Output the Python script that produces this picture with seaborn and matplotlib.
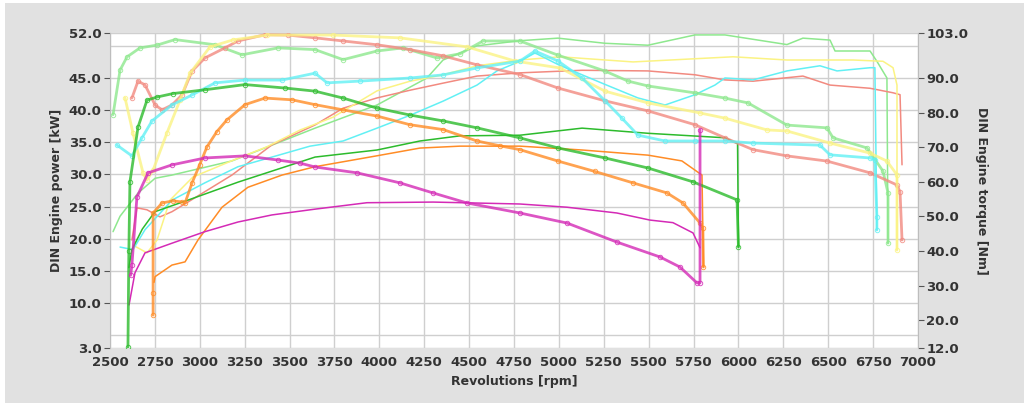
import matplotlib
matplotlib.use("Agg")
import matplotlib.pyplot as plt
from matplotlib.patches import Rectangle
import seaborn as sns

# ---------------- data (power: kW, left axis; torque: Nm, right axis) ----------------
X_TICKS = list(range(2500, 7001, 250))
KW_TICKS = [3, 10, 15, 20, 25, 30, 35, 40, 45, 52]
NM_TICKS = [12, 20, 30, 40, 50, 60, 70, 80, 90, 103]

LGREEN_TQ_RPM = [2517, 2556, 2595, 2667, 2762, 2862, 3085, 3235, 3436, 3642, 3798, 3987, 4132, 4321, 4450, 4577, 4783, 4995, 5257, 5385, 5496, 5758, 5925, 6053, 6270, 6493, 6527, 6716, 6805, 6833, 6833]
LGREEN_TQ_NM = [79.4, 92.3, 96.1, 98.7, 99.5, 101.1, 99.6, 96.7, 98.7, 98.2, 95.3, 97.8, 98.7, 95.8, 97.0, 100.7, 100.7, 96.6, 92.0, 89.1, 87.7, 85.7, 84.2, 82.8, 76.4, 75.6, 72.7, 69.8, 63.1, 56.8, 42.3]
LGREEN_PW_RPM = [2517, 2556, 2656, 2751, 2845, 3179, 3642, 3987, 4265, 4355, 4544, 4783, 4995, 5257, 5496, 5758, 5925, 6270, 6359, 6510, 6538, 6733, 6771, 6827, 6833]
LGREEN_PW_KW = [21.1, 23.5, 27.1, 29.4, 29.9, 32.1, 37.2, 40.8, 45.0, 47.8, 50.0, 50.8, 51.2, 50.4, 50.1, 51.7, 51.7, 50.2, 51.2, 50.9, 49.2, 49.2, 47.6, 45.0, 19.3]

SALMON_TQ_RPM = [2622, 2656, 2695, 2751, 2790, 2845, 2901, 2957, 3029, 3140, 3213, 3363, 3491, 3642, 3798, 3987, 4171, 4355, 4544, 4783, 4995, 5257, 5496, 5758, 5925, 6081, 6270, 6493, 6733, 6883, 6900, 6911]
SALMON_TQ_NM = [84.2, 89.1, 88.0, 82.2, 80.8, 82.2, 85.1, 92.0, 95.8, 98.7, 100.7, 102.5, 102.4, 101.6, 100.7, 99.6, 98.2, 96.4, 93.8, 91.0, 87.1, 83.4, 80.5, 76.5, 72.7, 69.3, 67.5, 66.0, 62.6, 59.1, 57.1, 43.2]
SALMON_PW_RPM = [2622, 2650, 2706, 2778, 2845, 2934, 3179, 3402, 3642, 3798, 3987, 4171, 4355, 4544, 4783, 5129, 5496, 5758, 5925, 6081, 6359, 6510, 6733, 6861, 6900, 6911]
SALMON_PW_KW = [19.8, 24.8, 24.5, 23.4, 24.2, 25.7, 29.9, 34.6, 37.7, 40.3, 41.9, 43.1, 44.2, 45.3, 45.8, 46.2, 46.1, 45.5, 44.7, 44.5, 45.3, 43.9, 43.4, 42.7, 42.4, 31.5]

YELLOW_TQ_RPM = [2584, 2628, 2684, 2706, 2740, 2817, 2890, 2946, 3057, 3185, 3374, 3742, 4115, 4488, 4755, 5006, 5257, 5496, 5786, 5925, 6159, 6270, 6510, 6733, 6827, 6883, 6883]
YELLOW_TQ_NM = [84.2, 74.1, 62.6, 60.5, 63.4, 74.1, 83.6, 91.4, 99.0, 101.0, 102.4, 102.4, 101.6, 99.0, 94.9, 92.9, 86.2, 82.8, 79.9, 78.4, 75.0, 74.7, 71.2, 68.3, 66.0, 62.0, 40.3]
YELLOW_PW_RPM = [2628, 2706, 2762, 2834, 2962, 3185, 3374, 3558, 3742, 3987, 4171, 4355, 4544, 4783, 5006, 5413, 5970, 6270, 6638, 6805, 6861, 6883, 6883]
YELLOW_PW_KW = [19.0, 17.8, 19.8, 26.0, 29.6, 32.2, 34.3, 36.9, 38.9, 43.0, 44.5, 45.5, 46.9, 47.8, 48.3, 47.5, 48.3, 47.8, 47.8, 47.6, 46.6, 43.9, 18.3]

CYAN_TQ_RPM = [2539, 2622, 2678, 2734, 2845, 2957, 3085, 3252, 3458, 3642, 3709, 3892, 4171, 4355, 4544, 4783, 4867, 4995, 5129, 5257, 5351, 5440, 5591, 5758, 5925, 6081, 6454, 6510, 6733, 6760, 6771, 6771]
CYAN_TQ_NM = [70.6, 67.5, 72.7, 77.6, 82.2, 85.1, 88.6, 89.4, 89.4, 91.4, 88.6, 89.1, 90.0, 90.9, 92.9, 94.9, 97.8, 94.9, 90.0, 83.4, 78.4, 73.5, 71.8, 71.8, 71.8, 71.2, 70.6, 67.8, 66.9, 66.3, 49.9, 46.1]
CYAN_PW_RPM = [2556, 2628, 2695, 2845, 3029, 3213, 3402, 3614, 3798, 3987, 4171, 4355, 4544, 4655, 4783, 4867, 4995, 5129, 5257, 5440, 5591, 5758, 5869, 5925, 6081, 6270, 6454, 6549, 6733, 6760, 6771]
CYAN_PW_KW = [18.7, 18.3, 21.4, 26.0, 28.7, 31.2, 32.7, 34.4, 35.2, 37.2, 39.2, 41.4, 43.9, 46.1, 47.6, 48.9, 47.1, 45.5, 44.0, 41.9, 40.8, 42.4, 43.9, 45.0, 44.7, 46.1, 46.9, 46.1, 46.6, 46.6, 21.4]

GREEN_TQ_RPM = [2600, 2605, 2611, 2656, 2706, 2762, 2850, 3029, 3252, 3475, 3642, 3798, 3987, 4171, 4355, 4544, 4783, 4995, 5257, 5496, 5747, 5992, 6000]
GREEN_TQ_NM = [12.3, 40.0, 60.0, 75.8, 83.6, 84.5, 85.5, 86.6, 88.1, 87.1, 86.2, 84.2, 81.3, 79.3, 77.6, 75.6, 72.7, 69.8, 66.9, 64.0, 60.0, 54.8, 41.2]
GREEN_PW_RPM = [2605, 2622, 2680, 2750, 2934, 3213, 3642, 3987, 4226, 4449, 4783, 5129, 5496, 5925, 5995, 6000]
GREEN_PW_KW = [15.5, 18.3, 21.5, 24.2, 26.0, 28.8, 32.7, 33.8, 35.2, 36.0, 36.1, 37.2, 36.4, 35.7, 34.8, 18.7]

ORANGE_TQ_RPM = [2740, 2740, 2740, 2790, 2850, 2901, 2918, 2957, 3000, 3040, 3095, 3151, 3252, 3363, 3514, 3642, 3798, 3987, 4171, 4355, 4544, 4672, 4783, 4995, 5200, 5413, 5602, 5691, 5786, 5802, 5805]
ORANGE_TQ_NM = [21.5, 27.9, 51.0, 53.9, 54.5, 54.2, 53.9, 59.7, 65.0, 70.1, 74.5, 77.9, 82.3, 84.2, 83.7, 82.3, 80.8, 79.0, 76.5, 75.1, 71.8, 70.4, 69.3, 66.0, 63.0, 59.7, 56.8, 53.9, 48.1, 46.7, 35.4]
ORANGE_PW_RPM = [2745, 2751, 2845, 2918, 2990, 3124, 3268, 3458, 3642, 3987, 4226, 4449, 4783, 5129, 5496, 5685, 5797, 5805]
ORANGE_PW_KW = [13.2, 14.1, 15.9, 16.4, 19.8, 24.9, 28.0, 29.9, 31.2, 32.9, 34.1, 34.4, 34.4, 33.8, 33.0, 32.1, 29.9, 15.6]

MAGENTA_TQ_RPM = [2615, 2622, 2650, 2712, 2845, 3029, 3252, 3436, 3558, 3642, 3876, 4115, 4299, 4488, 4783, 5045, 5323, 5563, 5674, 5769, 5786, 5786]
MAGENTA_TQ_NM = [33.0, 36.0, 55.6, 62.6, 64.9, 66.9, 67.5, 66.3, 65.4, 64.3, 62.6, 59.7, 56.8, 53.9, 51.0, 48.1, 42.6, 38.3, 35.4, 30.8, 30.8, 75.0]
MAGENTA_PW_RPM = [2606, 2639, 2695, 2845, 3029, 3213, 3402, 3642, 3931, 4299, 4783, 5045, 5323, 5507, 5635, 5747, 5786]
MAGENTA_PW_KW = [9.7, 14.7, 17.8, 19.3, 21.1, 22.6, 23.7, 24.6, 25.6, 25.7, 25.4, 24.9, 24.0, 22.9, 22.5, 20.9, 18.6]

SERIES = [
    ("#8ee88e", LGREEN_PW_RPM, LGREEN_PW_KW, LGREEN_TQ_RPM, LGREEN_TQ_NM),
    ("#f28a80", SALMON_PW_RPM, SALMON_PW_KW, SALMON_TQ_RPM, SALMON_TQ_NM),
    ("#fbf383", YELLOW_PW_RPM, YELLOW_PW_KW, YELLOW_TQ_RPM, YELLOW_TQ_NM),
    ("#62f0f4", CYAN_PW_RPM, CYAN_PW_KW, CYAN_TQ_RPM, CYAN_TQ_NM),
    ("#2cbb2c", GREEN_PW_RPM, GREEN_PW_KW, GREEN_TQ_RPM, GREEN_TQ_NM),
    ("#ff8c26", ORANGE_PW_RPM, ORANGE_PW_KW, ORANGE_TQ_RPM, ORANGE_TQ_NM),
    ("#d42ab6", MAGENTA_PW_RPM, MAGENTA_PW_KW, MAGENTA_TQ_RPM, MAGENTA_TQ_NM),
]

# ---------------- figure ----------------
sns.set_style("white")
FONT = ["Liberation Sans Narrow", "DejaVu Sans"]
plt.rcParams["font.family"] = FONT

fig = plt.figure(figsize=(10.24, 4.03), dpi=100, facecolor="white")
fig.patches.append(Rectangle((5 / 1024, 0), 1, 1 - 3 / 403, transform=fig.transFigure,
                             facecolor="#e1e1e1", edgecolor="none", zorder=-10))
ax = fig.add_axes([110 / 1024, 1 - 348 / 403, 808 / 1024, 315 / 403])
ax.set_facecolor("white")
ax2 = ax.twinx()

for color, prpm, pkw, trpm, tnm in SERIES:
    sns.lineplot(x=prpm, y=pkw, ax=ax, color=color, lw=1.1, estimator=None, sort=False,
                 legend=False)
for color, prpm, pkw, trpm, tnm in SERIES:
    sns.lineplot(x=trpm, y=tnm, ax=ax2, color=color, lw=2.0, estimator=None, sort=False,
                 marker="o", markersize=3.2, markerfacecolor="none", markeredgecolor=color,
                 markeredgewidth=0.7, alpha=0.8, legend=False)

ax.set_xlim(2500, 7000)
ax.set_ylim(3, 52)
ax2.set_ylim(12, 103)

ax.set_xticks(X_TICKS)
ax.set_xticklabels([str(v) for v in X_TICKS])
ax.set_yticks(KW_TICKS)
ax.set_yticklabels([f"{v:.1f}" for v in KW_TICKS])
ax.set_yticks([5, 50], minor=True)
ax2.set_yticks(NM_TICKS)
ax2.set_yticklabels([f"{v:.1f}" for v in NM_TICKS])

grid_kw = dict(color="#cfcfcf", lw=1.0)
ax.grid(True, axis="x", **grid_kw)
ax.yaxis.grid(True, which="both", **grid_kw)
ax2.grid(False)
ax.set_axisbelow(True)

tick_kw = dict(labelsize=9.5, colors="#555555", labelcolor="#333333")
ax.tick_params(axis="x", length=0, pad=6, **tick_kw)
ax.tick_params(axis="y", which="major", length=4, width=0.8, pad=2, **tick_kw)
ax.tick_params(axis="y", which="minor", length=0)
ax2.tick_params(axis="y", length=4, width=0.8, pad=2, **tick_kw)
for a in (ax, ax2):
    for lbl in a.get_xticklabels() + a.get_yticklabels():
        lbl.set_fontweight("bold")
    for s in a.spines.values():
        s.set_visible(False)
ax.spines["left"].set_visible(True)
ax.spines["left"].set_color("#bdbdbd")
ax2.spines["right"].set_visible(True)
ax2.spines["right"].set_color("#bdbdbd")

ax.set_xlabel("Revolutions [rpm]", fontsize=9, color="#333333", labelpad=4,
              fontweight="bold")
ax.set_ylabel("DIN Engine power [kW]", fontsize=9, color="#333333", labelpad=4,
              fontweight="bold")
ax2.set_ylabel("DIN Engine torque [Nm]", fontsize=9, color="#333333", rotation=270,
               labelpad=14, fontweight="bold")

fig.savefig("out.png", dpi=100, facecolor=fig.get_facecolor())
